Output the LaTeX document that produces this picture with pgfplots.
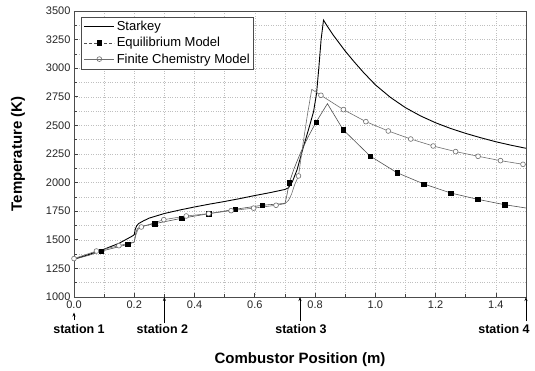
\documentclass[border=0pt]{standalone}
\usepackage{fontspec}
\setmainfont{Liberation Sans}
\usepackage{pgfplots}
\pgfplotsset{compat=1.18}
\usetikzlibrary{arrows.meta,calc}
\definecolor{eqline}{RGB}{80,80,80}
\definecolor{fcline}{RGB}{110,110,110}
\begin{document}
\begin{tikzpicture}
\begin{axis}[
  name=ax,
  scale only axis,
  width=452pt, height=286pt,
  xmin=0, xmax=1.5, ymin=1000, ymax=3500,
  clip=false,
  xtick={0,0.2,0.4,0.6,0.8,1.0,1.2,1.4},
  minor xtick={0.1,0.3,0.5,0.7,0.9,1.1,1.3,1.5},
  ytick={1000,1250,...,3500},
  minor ytick={1125,1375,...,3375},
  xtick pos=bottom, ytick pos=left,
  tick align=inside,
  major tick length=4pt, minor tick length=3pt,
  tick style={line width=0.7pt, black!75},
  grid=both,
  major grid style={dotted, line width=0.5pt, gray!50},
  minor grid style={dotted, line width=0.5pt, gray!50},
  axis line style={line width=0.9pt, black!70},
  /pgf/number format/assume math mode=true,
  xticklabel style={/pgf/number format/.cd, fixed, fixed zerofill, precision=1},
  yticklabel style={/pgf/number format/.cd, set thousands separator={}},
  tick label style={font=\fontsize{11}{13}\selectfont, text=black!85},
  xlabel={\textbf{Combustor Position (m)}},
  ylabel={\textbf{Temperature (K)}},
  xlabel style={font=\fontsize{15}{17}\selectfont, at={(axis description cs:0.5,0)}, anchor=center, yshift=-63pt},
  ylabel style={font=\fontsize{15}{17}\selectfont, at={(axis description cs:0,0.5)}, anchor=center, yshift=56pt},
  legend cell align=left,
  legend style={at={(0,1)}, anchor=north west, xshift=7.5pt, yshift=-5.5pt,
    font=\fontsize{13}{15}\selectfont, draw=black!70, line width=0.8pt,
    inner xsep=2pt, inner ysep=2.5pt, row sep=1.2pt},
  legend image code/.code={\draw[mark repeat=2,mark phase=2,#1] plot coordinates {(0pt,0pt) (15pt,0pt) (30pt,0pt)};},
]
\addlegendimage{black, line width=0.9pt}
\addlegendentry{Starkey}
\addlegendimage{eqline, densely dashed, line width=0.6pt, mark=square*, mark size=2.2pt, mark options={solid, fill=black, draw=black}}
\addlegendentry{Equilibrium Model}
\addlegendimage{fcline, line width=0.6pt, mark=o, mark size=2.4pt, mark options={fill=white, draw=fcline}}
\addlegendentry{Finite Chemistry Model}

% Starkey
\addplot[black, line width=0.9pt, forget plot] coordinates {
(0,1330) (0.05,1372) (0.1,1418) (0.15,1470) (0.195,1535) (0.2,1545)
(0.203,1590) (0.208,1622) (0.215,1643) (0.23,1665) (0.25,1690) (0.3,1730)
(0.35,1760) (0.4,1787) (0.45,1812) (0.5,1835) (0.55,1860) (0.6,1887)
(0.65,1912) (0.7,1940) (0.712,1955) (0.725,2010) (0.74,2110) (0.76,2300)
(0.78,2480) (0.795,2620) (0.805,2780) (0.813,3020) (0.82,3250) (0.828,3420)
(0.84,3370) (0.86,3290) (0.88,3220) (0.9,3150) (0.93,3055) (0.96,2965)
(1.0,2855) (1.05,2745) (1.1,2655) (1.15,2583) (1.2,2523) (1.25,2473)
(1.3,2430) (1.35,2392) (1.4,2357) (1.45,2327) (1.5,2300)
};

% Equilibrium line
\addplot[eqline, line width=0.6pt, forget plot] coordinates {
(0,1330) (0.05,1365) (0.0893,1400) (0.15,1440) (0.1786,1461) (0.195,1475)
(0.2,1480) (0.205,1560) (0.21,1595) (0.22,1615) (0.2679,1641) (0.3572,1688)
(0.4465,1728) (0.5358,1767) (0.6251,1802) (0.70,1818) (0.705,1870)
(0.7144,2000) (0.73,2120) (0.75,2250) (0.775,2390) (0.8037,2530)
(0.841,2690) (0.893,2463) (0.9823,2233) (1.0716,2087) (1.1609,1988)
(1.2502,1909) (1.3395,1854) (1.4288,1807) (1.5,1778)
};
% Equilibrium markers
\addplot[only marks, mark=square*, mark size=2.2pt, mark options={fill=black, draw=black}, forget plot] coordinates {
(0.0893,1400) (0.1786,1461) (0.2679,1641) (0.3572,1688) (0.4465,1728)
(0.5358,1767) (0.6251,1802) (0.7144,2000) (0.8037,2530) (0.893,2463)
(0.9823,2233) (1.0716,2087) (1.1609,1988) (1.2502,1909) (1.3395,1854)
(1.4288,1807)
};

% Finite chemistry line
\addplot[fcline, line width=0.6pt, forget plot] coordinates {
(0,1336) (0.0745,1402) (0.149,1449) (0.19,1475) (0.2,1482) (0.205,1540)
(0.212,1590) (0.2235,1612) (0.298,1676) (0.3725,1708) (0.447,1729)
(0.5215,1755) (0.596,1777) (0.6705,1802) (0.70,1816) (0.712,1845)
(0.722,1900) (0.732,1980) (0.745,2058) (0.76,2340) (0.775,2600)
(0.789,2815) (0.8195,2763) (0.894,2638) (0.9685,2533) (1.043,2451)
(1.1175,2381) (1.192,2320) (1.2665,2271) (1.341,2230) (1.4155,2192)
(1.49,2160) (1.5,2155)
};
% Finite chemistry markers
\addplot[only marks, mark=*, mark size=2.4pt, mark options={fill=white, draw=fcline, line width=0.6pt}, forget plot] coordinates {
(0,1336) (0.0745,1402) (0.149,1449) (0.2235,1612) (0.298,1676) (0.3725,1708)
(0.447,1729) (0.5215,1755) (0.596,1777) (0.6705,1802) (0.745,2058)
(0.8195,2763) (0.894,2638) (0.9685,2533) (1.043,2451) (1.1175,2381)
(1.192,2320) (1.2665,2271) (1.341,2230) (1.4155,2192) (1.49,2160)
};

% stations
\draw[black, line width=0.6pt, -{Stealth[length=4pt,width=3pt]}] ([yshift=-23pt]axis cs:0,1000) -- ([yshift=-15.5pt]axis cs:0,1000);
\draw[black, line width=0.6pt, -{Stealth[length=4pt,width=3pt]}] ([yshift=-26pt]axis cs:0.3,1000) -- (axis cs:0.3,1000);
\draw[black, line width=0.6pt, -{Stealth[length=4pt,width=3pt]}] ([yshift=-24pt]axis cs:0.75,1000) -- (axis cs:0.75,1000);
\draw[black, line width=0.6pt, -{Stealth[length=4pt,width=3pt]}] ([yshift=-24pt]axis cs:1.5,1000) -- (axis cs:1.5,1000);
\node[font=\fontsize{12.5}{14}\bfseries, anchor=center] at ([xshift=5pt,yshift=-32pt]axis cs:0,1000) {station 1};
\node[font=\fontsize{12.5}{14}\bfseries, anchor=center] at ([xshift=-2pt,yshift=-32pt]axis cs:0.3,1000) {station 2};
\node[font=\fontsize{12.5}{14}\bfseries, anchor=center] at ([xshift=1pt,yshift=-32pt]axis cs:0.75,1000) {station 3};
\node[font=\fontsize{12.5}{14}\bfseries, anchor=center] at ([xshift=-22pt,yshift=-32pt]axis cs:1.5,1000) {station 4};
\end{axis}
\pgfresetboundingbox
\path[use as bounding box] ($(ax.south west)+(-74pt,-73pt)$) rectangle ($(ax.north east)+(9pt,11pt)$);
\end{tikzpicture}
\end{document}
